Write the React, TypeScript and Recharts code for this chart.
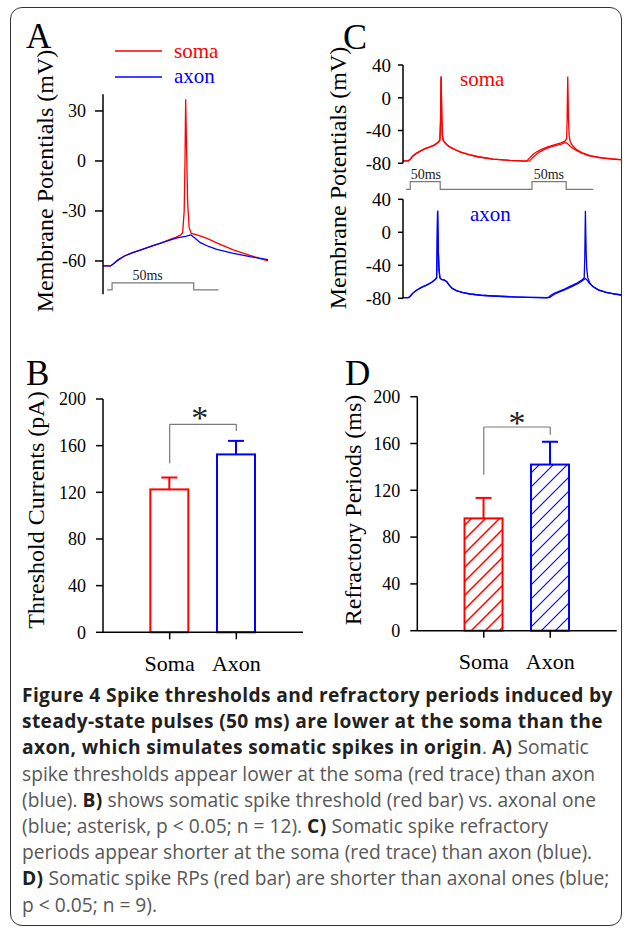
import React from "react";
import {
  LineChart,
  Line,
  XAxis,
  YAxis,
  ComposedChart,
  Bar,
  ReferenceLine,
  ReferenceDot,
  LabelList,
} from "recharts";

const RED = "#ff0000";
const BLUE = "#0000ff";
const GRAY = "#7a7a7a";
const SERIF = '"Liberation Serif", "Times New Roman", serif';
const SANS = '"Open Sans", "Noto Sans", sans-serif';

// ---- Panel A: one 50 ms pulse (t in ms, v in mV)
const aSoma = [
  { t: 0, v: -63 }, { t: 4.5, v: -63 }, { t: 6, v: -62 }, { t: 9, v: -59.5 },
  { t: 13, v: -57 }, { t: 18, v: -55 }, { t: 23, v: -53.3 }, { t: 29, v: -51.3 },
  { t: 35, v: -49.3 }, { t: 40, v: -47.4 }, { t: 44, v: -45.8 }, { t: 47, v: -44.5 },
  { t: 48.3, v: -43 }, { t: 49.2, v: -30 }, { t: 49.7, v: 0 }, { t: 50.1, v: 37 },
  { t: 50.6, v: 10 }, { t: 51.3, v: -25 }, { t: 52.2, v: -40 }, { t: 53.5, v: -43.5 },
  { t: 57, v: -44.3 }, { t: 63, v: -46.4 }, { t: 71, v: -50 }, { t: 79, v: -53.4 },
  { t: 89, v: -56.6 }, { t: 95, v: -58.4 }, { t: 100, v: -60 },
];
const aAxon = [
  { t: 0, v: -63 }, { t: 4.5, v: -63 }, { t: 6, v: -62 }, { t: 9, v: -59.5 },
  { t: 13, v: -57 }, { t: 18, v: -55 }, { t: 23, v: -53.3 }, { t: 29, v: -51.3 },
  { t: 35, v: -49.3 }, { t: 40, v: -47.6 }, { t: 45, v: -46.2 }, { t: 50, v: -45.2 },
  { t: 53.3, v: -44.4 }, { t: 56, v: -46.5 }, { t: 59, v: -49 }, { t: 64, v: -51.3 },
  { t: 69, v: -53 }, { t: 79, v: -55.4 }, { t: 89, v: -57.4 }, { t: 100, v: -59.2 },
];
const aPulse = [
  { t: 2.5, v: -77.4 }, { t: 5.5, v: -77.4 }, { t: 5.5, v: -73.2 }, { t: 27, v: -73.2, label: "50ms" },
  { t: 55, v: -73.2 }, { t: 55, v: -77.4 }, { t: 70, v: -77.4 },
];

// ---- Panel C: paired pulses (t in ms, v in mV)
const cSomaFirst = [
  { t: 0, v: -77 }, { t: 9, v: -77 }, { t: 12, v: -75 }, { t: 16, v: -71.5 }, { t: 21, v: -68.5 },
  { t: 28, v: -65.5 }, { t: 36, v: -62.5 }, { t: 45, v: -60 }, { t: 53, v: -57.5 }, { t: 59, v: -54 },
  { t: 61.5, v: -51.5 }, { t: 62.5, v: -30 }, { t: 63, v: 0 }, { t: 63.5, v: 26 }, { t: 64, v: 5 },
  { t: 64.7, v: -25 }, { t: 65.6, v: -45 }, { t: 67, v: -52 }, { t: 70, v: -55 }, { t: 74, v: -58 },
  { t: 79, v: -60.5 }, { t: 87, v: -63.5 }, { t: 95, v: -66 }, { t: 110, v: -69.5 }, { t: 125, v: -72 },
  { t: 150, v: -75 }, { t: 178, v: -76.5 }, { t: 205, v: -77.3 },
];
const cSomaSecondA = [
  { t: 208, v: -76 }, { t: 212, v: -72.5 }, { t: 217, v: -69 }, { t: 223, v: -66 }, { t: 231, v: -63 },
  { t: 241, v: -60 }, { t: 252, v: -57.5 }, { t: 263, v: -55 }, { t: 270, v: -53 }, { t: 272.8, v: -50 },
  { t: 273.6, v: -25 }, { t: 274.1, v: 5 }, { t: 274.6, v: 26 }, { t: 275.1, v: 5 }, { t: 275.8, v: -25 },
  { t: 276.8, v: -45 }, { t: 278.5, v: -53 }, { t: 282, v: -58 }, { t: 288, v: -62.5 }, { t: 298, v: -67 },
  { t: 312, v: -70.5 }, { t: 330, v: -73 }, { t: 350, v: -74.5 }, { t: 365, v: -75.5 },
];
const cSomaSecondB = [
  { t: 211, v: -77 }, { t: 215, v: -74 }, { t: 219, v: -71 }, { t: 225, v: -67.5 }, { t: 233, v: -64 },
  { t: 243, v: -61 }, { t: 254, v: -58.5 }, { t: 264, v: -56.5 }, { t: 270, v: -54.5 }, { t: 274, v: -56 },
  { t: 279, v: -59.5 }, { t: 286, v: -63 }, { t: 296, v: -67 }, { t: 310, v: -70.8 }, { t: 328, v: -73.5 },
  { t: 348, v: -75 }, { t: 365, v: -75.8 },
];
const cAxonFirst = [
  { t: 0, v: -79.3 }, { t: 9, v: -79.3 }, { t: 12, v: -77.5 }, { t: 16, v: -74 }, { t: 22, v: -70.5 },
  { t: 30, v: -67 }, { t: 39, v: -64 }, { t: 48, v: -60.5 }, { t: 54, v: -57 }, { t: 56, v: -55 },
  { t: 56.7, v: -30 }, { t: 57.2, v: 0 }, { t: 57.7, v: 26 }, { t: 58.2, v: 5 }, { t: 59, v: -25 },
  { t: 60, v: -45 }, { t: 61.5, v: -55 }, { t: 64, v: -57 }, { t: 69, v: -58 }, { t: 73, v: -60 },
  { t: 77, v: -64 }, { t: 82, v: -68 }, { t: 90, v: -71 }, { t: 100, v: -73 }, { t: 112, v: -74.8 },
  { t: 130, v: -76.3 }, { t: 150, v: -77.2 }, { t: 180, v: -78.2 }, { t: 210, v: -78.8 }, { t: 240, v: -79.3 },
];
const cAxonSecondA = [
  { t: 243, v: -78.5 }, { t: 247, v: -76 }, { t: 252, v: -74 }, { t: 260, v: -71.5 }, { t: 270, v: -68.5 },
  { t: 280, v: -65 }, { t: 290, v: -61.5 }, { t: 298, v: -58 }, { t: 302, v: -55 }, { t: 303, v: -30 },
  { t: 303.5, v: 0 }, { t: 304, v: 26 }, { t: 304.5, v: 5 }, { t: 305.3, v: -25 }, { t: 306.3, v: -45 },
  { t: 308, v: -55 }, { t: 311, v: -61 }, { t: 316, v: -65.5 }, { t: 325, v: -69.5 }, { t: 338, v: -72.5 },
  { t: 352, v: -74.5 }, { t: 365, v: -76 },
];
const cAxonSecondB = [
  { t: 245, v: -79 }, { t: 249, v: -76.5 }, { t: 254, v: -74.5 }, { t: 262, v: -72 }, { t: 272, v: -69 },
  { t: 282, v: -65.5 }, { t: 292, v: -62 }, { t: 300, v: -58 }, { t: 304, v: -56 }, { t: 307, v: -58 },
  { t: 311, v: -62 }, { t: 317, v: -66 }, { t: 326, v: -70 }, { t: 339, v: -73 }, { t: 353, v: -75 },
  { t: 365, v: -76.3 },
];
const cPulse = [
  { t: 5, s: 0 }, { t: 12, s: 0 }, { t: 12, s: 1 }, { t: 38, s: 1, label: "50ms" }, { t: 62, s: 1 },
  { t: 62, s: 0 }, { t: 215, s: 0 }, { t: 215, s: 1 }, { t: 243, s: 1, label: "50ms" }, { t: 272, s: 1 },
  { t: 272, s: 0 }, { t: 317, s: 0 },
];

// ---- Panels B and D: bars (mean + SEM)
const barCategories = ["Soma", "Axon"];
const thresholdMeans = [122.5, 152.5];
const thresholdErrs = [10.2, 11.6];
const refractoryMeans = [96, 142];
const refractoryErrs = [17.5, 19.5];
const barTicks = [0, 40, 80, 120, 160, 200];

const bData = barCategories.map((name, i) => ({ pos: i + 1, name, value: thresholdMeans[i], err: thresholdErrs[i] }));
const dData = barCategories.map((name, i) => ({ pos: i + 1, name, value: refractoryMeans[i], err: refractoryErrs[i] }));

const catColor: Record<string, string> = { Soma: RED, Axon: BLUE };

const axisStyle = { stroke: "#000", strokeWidth: 1.5 };
const tickFont = { fill: "#000", fontSize: 18, fontFamily: SERIF };

const makeBarShape = (hatched: boolean) => (props: any) => {
  const { x, y, width, height, payload } = props;
  const color = catColor[payload.name];
  const errPx = (height * payload.err) / payload.value;
  const cx = x + width / 2;
  const fill = hatched ? `url(#hatch-${payload.name})` : "#fff";
  return (
    <g>
      <rect x={x} y={y} width={width} height={height} fill={fill} stroke={color} strokeWidth={2} />
      <line x1={cx} x2={cx} y1={y} y2={y - errPx} stroke={color} strokeWidth={2} />
      <line x1={cx - 8} x2={cx + 8} y1={y - errPx} y2={y - errPx} stroke={color} strokeWidth={2} />
    </g>
  );
};

const Star = (dy: number) => (p: any) => (
  <text x={p.viewBox.x} y={p.viewBox.y + dy} textAnchor="middle" fontSize={34} fontFamily={SERIF} fill="#222">
    *
  </text>
);

function BarPanel({ data, hatched, bracket, starX, starDy, left }: any) {
  return (
    <div style={{ position: "absolute", left, top: 330 }}>
      <ComposedChart width={left === 0 ? 310 : 317} height={350} data={data}
        margin={left === 0 ? { top: 69, right: 7, bottom: 7.7, left: 53 } : { top: 66.7, right: 10.3, bottom: 9.3, left: 57.3 }}>
        <defs>
          <pattern id="hatch-Soma" patternUnits="userSpaceOnUse" width={14} height={14}>
            <path d="M0,14 L14,0 M-3.5,3.5 L3.5,-3.5 M10.5,17.5 L17.5,10.5" stroke={RED} strokeWidth={1.5} />
          </pattern>
          <pattern id="hatch-Axon" patternUnits="userSpaceOnUse" width={14} height={14}>
            <path d="M0,14 L14,0 M-3.5,3.5 L3.5,-3.5 M10.5,17.5 L17.5,10.5" stroke={BLUE} strokeWidth={1.1} />
          </pattern>
        </defs>
        <XAxis dataKey="pos" type="number" domain={[0, 3]} ticks={[1, 2]} interval={0} height={40}
          tickFormatter={(v: number) => barCategories[v - 1]} tickSize={7} tickMargin={16}
          axisLine={axisStyle} tickLine={axisStyle} tick={{ ...tickFont, fontSize: 22 }} />
        <YAxis type="number" domain={[0, 200]} ticks={barTicks} interval={0} width={50} tickSize={7} tickMargin={10}
          axisLine={axisStyle} tickLine={axisStyle} tick={tickFont} />
        <Bar dataKey="value" barSize={38} shape={makeBarShape(hatched)} isAnimationActive={false} />
        <ReferenceLine segment={[{ x: 1, y: bracket[0] }, { x: 1, y: bracket[1] }]} stroke={GRAY} strokeWidth={1.2} />
        <ReferenceLine segment={[{ x: 1, y: bracket[1] }, { x: 2, y: bracket[1] }]} stroke={GRAY} strokeWidth={1.2} />
        <ReferenceLine segment={[{ x: 2, y: bracket[1] }, { x: 2, y: bracket[2] }]} stroke={GRAY} strokeWidth={1.2} />
        <ReferenceDot x={starX} y={bracket[1]} r={0} fill="none" stroke="none" label={Star(starDy)} />
      </ComposedChart>
    </div>
  );
}

const pulseLabel = (fontSize: number, gap: number) => (p: any) =>
  p.value ? (
    <text x={p.x} y={p.y - gap} textAnchor="middle" fontSize={fontSize} fontFamily={SERIF} fill="#222">
      {p.value}
    </text>
  ) : null;

const captionLines: [boolean, string][][] = [
  [[true, "Figure 4 Spike thresholds and refractory periods induced by"]],
  [[true, "steady-state pulses (50 ms) are lower at the soma than the"]],
  [[true, "axon, which simulates somatic spikes in origin"], [false, ". "], [true, "A)"], [false, " Somatic"]],
  [[false, "spike thresholds appear lower at the soma (red trace) than axon"]],
  [[false, "(blue). "], [true, "B)"], [false, " shows somatic spike threshold (red bar) vs. axonal one"]],
  [[false, "(blue; asterisk, p < 0.05; n = 12). "], [true, "C)"], [false, " Somatic spike refractory"]],
  [[false, "periods appear shorter at the soma (red trace) than axon (blue)."]],
  [[true, "D)"], [false, " Somatic spike RPs (red bar) are shorter than axonal ones (blue;"]],
  [[false, "p < 0.05; n = 9)."]],
];

export default function App() {
  return (
    <div style={{ position: "absolute", left: 0, top: 0, width: 627, height: 928, background: "#fff", overflow: "hidden" }}>
      <div style={{ position: "absolute", left: 10, top: 7, width: 612, height: 919, border: "1.5px solid #333",
        borderRadius: 12, boxSizing: "border-box" }} />

      {/* A */}
      <div style={{ position: "absolute", left: 0, top: 0 }}>
        <LineChart width={300} height={330} margin={{ top: 94.3, right: 32, bottom: 35.7, left: 63 }}>
          <XAxis type="number" dataKey="t" domain={[0, 100]} hide />
          <YAxis type="number" domain={[-80, 40]} ticks={[-60, -30, 0, 30]} interval={0} width={40} tickSize={8}
            tickMargin={9} axisLine={axisStyle} tickLine={axisStyle} tick={tickFont} />
          <Line data={aPulse} dataKey="v" stroke={GRAY} strokeWidth={1.2} dot={false} isAnimationActive={false}>
            <LabelList dataKey="label" content={pulseLabel(14, 3)} />
          </Line>
          <Line data={aSoma} dataKey="v" stroke={RED} strokeWidth={1.3} dot={false} isAnimationActive={false} />
          <Line data={aAxon} dataKey="v" stroke={BLUE} strokeWidth={1.3} dot={false} isAnimationActive={false} />
        </LineChart>
      </div>

      {/* C top (soma) */}
      <div style={{ position: "absolute", left: 310, top: 0 }}>
        <LineChart width={317} height={175} margin={{ top: 65, right: 5, bottom: 11.7, left: 43 }}>
          <XAxis type="number" dataKey="t" domain={[0, 365]} hide />
          <YAxis type="number" domain={[-80, 40]} ticks={[-80, -40, 0, 40]} interval={0} width={50} tickSize={5}
            tickMargin={7} axisLine={axisStyle} tickLine={axisStyle} tick={{ ...tickFont, fontSize: 19 }} />
          <Line data={[...cSomaFirst, ...cSomaSecondB]} dataKey="v" stroke={RED} strokeWidth={1.3} dot={false} isAnimationActive={false} />
          <Line data={[...cSomaFirst, ...cSomaSecondA]} dataKey="v" stroke={RED} strokeWidth={1.3} dot={false} isAnimationActive={false} />
        </LineChart>
      </div>
      {/* C stimulus */}
      <div style={{ position: "absolute", left: 310, top: 160 }}>
        <LineChart width={317} height={35} margin={{ top: 21.7, right: 5, bottom: 5.7, left: 93 }}>
          <XAxis type="number" dataKey="t" domain={[0, 365]} hide />
          <YAxis type="number" domain={[0, 1]} hide />
          <Line data={cPulse} dataKey="s" stroke={GRAY} strokeWidth={1.2} dot={false} isAnimationActive={false}>
            <LabelList dataKey="label" content={pulseLabel(14, 3)} />
          </Line>
        </LineChart>
      </div>
      {/* C bottom (axon) */}
      <div style={{ position: "absolute", left: 310, top: 185 }}>
        <LineChart width={317} height={125} margin={{ top: 14.3, right: 5, bottom: 11.7, left: 43 }}>
          <XAxis type="number" dataKey="t" domain={[0, 365]} hide />
          <YAxis type="number" domain={[-80, 40]} ticks={[-80, -40, 0, 40]} interval={0} width={50} tickSize={5}
            tickMargin={7} axisLine={axisStyle} tickLine={axisStyle} tick={{ ...tickFont, fontSize: 19 }} />
          <Line data={[...cAxonFirst, ...cAxonSecondB]} dataKey="v" stroke={BLUE} strokeWidth={1.3} dot={false} isAnimationActive={false} />
          <Line data={[...cAxonFirst, ...cAxonSecondA]} dataKey="v" stroke={BLUE} strokeWidth={1.3} dot={false} isAnimationActive={false} />
        </LineChart>
      </div>

      <BarPanel data={bData} hatched={false} bracket={[145, 178.3, 172.5]} starX={1.45} starDy={4.4} left={0} />
      <BarPanel data={dData} hatched={true} bracket={[133.3, 174.1, 167.5]} starX={1.5} starDy={7} left={310} />

      {/* letters, legends, axis titles */}
      <svg width={627} height={928} style={{ position: "absolute", left: 0, top: 0, pointerEvents: "none" }}
        fontFamily={SERIF}>
        <text x={26} y={48} fontSize={35}>A</text>
        <text x={343} y={49} fontSize={36}>C</text>
        <text x={26} y={385} fontSize={35}>B</text>
        <text x={345} y={385} fontSize={35}>D</text>
        <line x1={115} x2={162} y1={51} y2={51} stroke={RED} strokeWidth={1.3} />
        <text x={174} y={58} fontSize={21} fill={RED}>soma</text>
        <line x1={115} x2={162} y1={77} y2={77} stroke={BLUE} strokeWidth={1.3} />
        <text x={174} y={83} fontSize={21} fill={BLUE}>axon</text>
        <text x={460} y={86} fontSize={21} fill={RED}>soma</text>
        <text x={470} y={221} fontSize={21} fill={BLUE}>axon</text>
        <text transform="translate(45,181) rotate(-90)" textAnchor="middle" dominantBaseline="central" fontSize={24}>
          Membrane Potentials (mV)
        </text>
        <text transform="translate(338,178) rotate(-90)" textAnchor="middle" dominantBaseline="central" fontSize={24}>
          Membrane Potentials (mV)
        </text>
        <text transform="translate(36,510) rotate(-90)" textAnchor="middle" dominantBaseline="central" fontSize={24}>
          Threshold Currents (pA)
        </text>
        <text transform="translate(353,510) rotate(-90)" textAnchor="middle" dominantBaseline="central" fontSize={24}>
          Refractory Periods (ms)
        </text>
      </svg>

      {/* caption */}
      <div style={{ position: "absolute", left: 22, top: 682, fontFamily: SANS, fontSize: 19.2, lineHeight: "26.2px",
        color: "#575757", whiteSpace: "nowrap" }}>
        {captionLines.map((segs, i) => (
          <div key={i}>
            {segs.map(([bold, txt], j) => (
              <span key={j} style={bold ? { fontWeight: 700, color: "#231f20", letterSpacing: "0.35px" } : undefined}>{txt}</span>
            ))}
          </div>
        ))}
      </div>
    </div>
  );
}
